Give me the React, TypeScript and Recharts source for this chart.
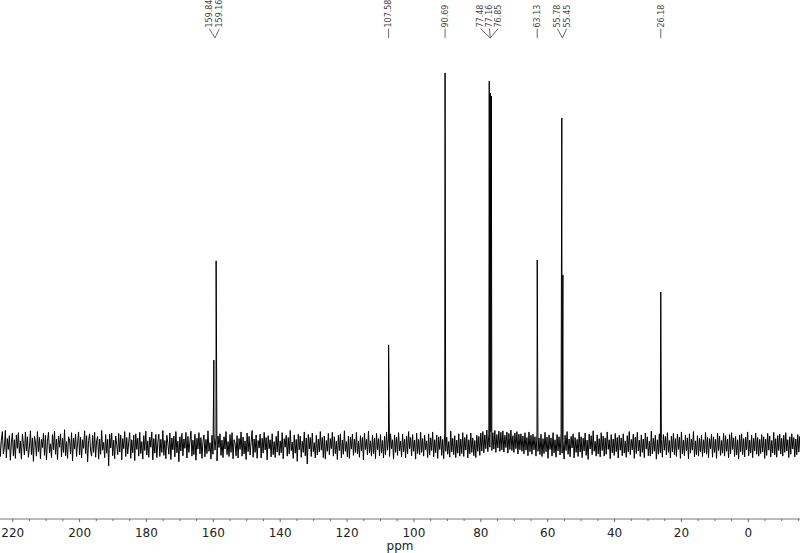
import { ComposedChart, Line, Scatter, XAxis, YAxis, ReferenceLine } from 'recharts';

// 13C spectrum, ppm axis runs right-to-left
const peakShifts = [159.84, 159.16, 107.58, 90.69, 77.48, 77.16, 76.85, 63.13, 55.78, 55.45, 26.18];
const peakHeights = [22.8, 49.5, 26.9, 100, 97.8, 94.6, 93.8, 49.7, 87.9, 45.7, 41.1];
const peakLabels = ['159.84', '159.16', '107.58', '90.69', '77.48', '77.16', '76.85', '63.13', '55.78', '55.45', '26.18'];
// where each label's text sits, and the peak its leader line points to
const labelShifts = [161.2, 158.2, 107.58, 90.69, 80.1, 77.4, 74.85, 63.13, 57.1, 54.3, 26.18];
const labelTargets = [159.5, 159.5, 107.58, 90.69, 77.16, 77.16, 77.16, 63.13, 55.6, 55.6, 26.18];

const majorTicks = [220, 200, 180, 160, 140, 120, 100, 80, 60, 40, 20, 0];
const allTicks = [
  220, 215, 210, 205, 200, 195, 190, 185, 180, 175, 170, 165, 160, 155, 150, 145, 140, 135, 130, 125,
  120, 115, 110, 105, 100, 95, 90, 85, 80, 75, 70, 65, 60, 55, 50, 45, 40, 35, 30, 25, 20, 15, 10, 5,
  0, -5, -10, -15,
];

// baseline noise, sampled every 0.3 ppm from 224 ppm
const noiseStart = 224.0;
const noiseStep = 0.3;
const noise = [
  2.8, -3.1, 1.2, 3.6, -2.4, -0.8, 3.9, -3.5, 1.7, -1.2, 2.5, -4.1, 0.6, 3.2, -2.9, 1.4, -3.6, 2.7, -0.9, 3.3,
  -2.2, 1.1, -3.8, 2.9, 0.4, -2.7, 3.5, -1.6, 2.2, -3.3, -0.5, 3.8, -2.6, 1.9, -4.4, 2.3, 0.8, -3.0, 3.6, -1.8,
  2.0, -3.7, 1.5, -0.7, 3.1, -2.8, 2.6, -4.0, 1.0, 3.4, -2.1, 0.3, -3.4, 2.8, -1.3, 3.7, -2.5, 1.6, -3.9, 2.4,
  -0.6, 3.0, -3.2, 1.8, -2.0, 4.1, -2.9, 0.9, -3.6, 2.2, 1.3, -2.4, 3.3, -4.3, 1.9, -1.1, 2.9, -3.1, 0.5, 3.5,
  -2.7, 2.1, -3.5, 1.4, -0.9, 3.8, -2.3, 2.5, -4.6, 1.2, 3.0, -1.7, -3.0, 2.6, -2.0, 3.4, -3.3, 1.1, 2.3, -3.8,
  1.6, -2.5, 3.9, -1.4, 0.7, -3.4, 2.8, -2.2, 1.5, -5.6, 2.9, -0.8, 3.2, -2.9, 1.3, -3.7, 2.4, 0.2, -2.6, 3.1,
  -1.9, 2.7, -4.0, 1.7, -1.0, 3.6, -3.1, 2.0, -2.4, 0.8, 3.3, -3.6, 1.4, -2.1, 2.6, -4.2, 3.0, -1.2, 1.8, -3.0,
  3.4, -2.3, 0.9, -3.8, 2.5, -1.5, 3.7, -2.7, 1.1, -3.3, 2.1, -0.6, 3.5, -4.0, 1.7, -2.2, 2.8, -3.4, 0.7, 2.9,
  -3.1, 1.5, -2.0, 3.9, -2.8, 1.2, -3.7, 2.6, 0.4, -2.5, 3.2, -3.9, 1.9, -1.3, 2.4, -3.2, 3.6, -2.1, 1.0, -4.5,
  2.2, -1.6, 3.1, -2.9, 1.6, -0.9, 3.4, -3.5, 2.3, -2.0, 0.8, 3.7, -3.0, 1.3, -2.6, 2.9, -4.1, 1.8, -1.1, 3.3,
  -2.4, 2.0, -3.6, 1.0, 2.7, -3.2, 1.5, -2.3, 3.8, -1.7, 0.6, -3.8, 2.6, -2.5, 3.1, -1.4, 1.9, -4.3, 2.4, -0.7,
  3.0, -2.8, 1.3, -3.4, 2.2, -1.1, 3.6, -2.6, 0.9, -3.1, 2.8, -2.0, 3.3, -3.7, 1.4, 0.5, -2.9, 2.5, -3.5, 1.7,
  -1.2, 3.5, -3.0, 2.1, -2.4, 1.1, -3.9, 3.2, -1.8, 2.3, -2.7, 0.7, 3.9, -3.3, 1.6, -2.0, 2.7, -3.6, 1.2, -0.8,
  2.9, -3.5, 1.8, -2.2, 3.4, -1.3, 2.0, -4.0, 2.5, -1.0, 1.4, -3.2, 3.0, -2.6, 0.9, -3.4, 2.3, -1.9, 3.7, -2.8,
  1.1, -2.1, 3.3, -3.7, 1.7, -0.6, 2.6, -3.0, 2.0, -2.4, 3.9, -1.5, 0.8, -3.6, 2.7, -2.2, 1.5, -4.4, 2.9, -1.3,
  2.4, -3.3, 1.0, -2.0, 3.5, -2.9, 1.9, -5.1, 2.8, -1.1, 2.0, -3.1, 3.2, -1.8, 0.6, -3.5, 2.6, -2.7, 1.6, -1.9,
  3.6, -1.4, 2.0, -3.4, 2.4, -3.8, 1.2, -1.7, 3.1, -2.6, 1.7, -1.0, 3.4, -3.0, 2.2, -2.3, 1.0, -3.9, 2.6, -1.5,
  3.0, -3.4, 1.3, -2.5, 3.8, -1.7, 0.9, -3.2, 2.4, -3.6, 2.1, -1.1, 2.9, -2.8, 1.6, -2.0, 3.4, -2.4, 1.0, -3.3,
  2.5, -1.6, 2.0, -4.0, 3.2, -1.2, 1.5, -2.7, 3.7, -2.1, 1.1, -3.0, 2.6, -2.3, 1.9, -3.7, 3.1, -1.3, 1.7, -2.9,
  2.8, -2.2, 1.2, -3.5, 2.3, -2.6, 3.5, -1.4, 1.8, -3.1, 3.0, -1.0, 1.4, -3.8, 2.7, -2.0, 2.1, -2.8, 3.3, -1.6,
  1.0, -3.2, 2.9, -1.8, 1.5, -3.5, 2.4, -2.4, 3.6, -1.1, 2.0, -2.9, 2.8, -1.7, 1.3, -3.8, 3.2, -2.3, 1.5, -2.6,
  3.4, -2.0, 1.7, -3.0, 2.6, -1.3, 1.1, -3.4, 3.0, -2.7, 1.9, -1.5, 3.5, -3.2, 1.4, -2.1, 2.7, -3.6, 2.2, -1.2,
  2.4, -2.8, 1.5, -3.7, 3.1, -1.7, 2.1, -2.5, 0.9, -3.3, 3.7, -1.9, 1.8, -2.6, 2.5, -3.4, 1.3, -2.2, 3.0, -3.0,
  1.6, -2.3, 3.3, -3.1, 2.0, -1.4, 2.8, -3.5, 1.4, -2.4, 3.2, -2.0, 1.9, -2.9, 1.2, -3.4, 2.6, -1.7, 2.3, -2.8,
  3.2, -1.6, 3.6, -2.1, 2.7, -1.0, 4.0, -1.8, 2.9, -0.6, 3.6, -1.5, 3.3, -1.1, 3.9, -2.0, 2.8, -0.8, 3.7, -1.7,
  3.4, -1.3, 3.8, -1.9, 2.6, -0.7, 3.5, -2.2, 3.1, -1.2, 4.0, -1.5, 2.5, -2.0, 3.2, -1.0, 3.6, -2.4, 2.9, -1.3,
  3.0, -1.7, 2.4, -2.4, 3.3, -1.4, 2.0, -2.9, 3.5, -1.8, 2.6, -2.5, 2.9, -1.3, 2.2, -3.0, 3.2, -1.7, 1.9, -2.6,
  2.9, -3.1, 1.7, -2.3, 3.4, -1.8, 2.1, -3.6, 2.7, -1.2, 1.9, -3.0, 3.3, -2.1, 1.4, -3.3, 2.8, -1.6, 2.2, -2.7,
  3.1, -2.2, 1.2, -3.8, 2.6, -1.5, 3.6, -2.5, 1.6, -3.2, 2.3, -0.8, 3.0, -3.5, 2.0, -2.0, 1.5, -3.1, 3.4, -1.9,
  2.2, -3.4, 1.8, -1.6, 3.2, -2.8, 1.3, -3.9, 2.9, -1.1, 2.5, -2.6, 3.8, -1.7, 1.0, -3.0, 2.7, -2.4, 1.7, -3.2,
  3.3, -1.5, 2.4, -3.0, 1.9, -2.5, 3.5, -1.2, 1.4, -3.7, 2.8, -2.1, 1.6, -2.8, 3.1, -1.8, 2.0, -3.5, 2.6, -1.4,
  1.9, -2.9, 3.0, -2.2, 1.1, -3.3, 2.5, -1.9, 3.6, -2.6, 1.5, -1.3, 2.9, -3.6, 2.1, -2.3, 3.4, -1.6, 1.3, -3.1,
  2.7, -2.0, 1.6, -3.4, 3.2, -1.1, 2.2, -2.9, 1.0, -3.0, 3.7, -2.4, 1.8, -1.7, 2.6, -3.8, 1.4, -2.5, 3.0, -2.1,
  1.5, -3.3, 2.8, -1.4, 2.3, -2.7, 3.3, -2.0, 1.2, -3.5, 2.4, -1.8, 3.1, -2.6, 1.7, -3.1, 2.9, -1.2, 2.1, -3.6,
  3.5, -2.4, 1.3, -2.9, 2.7, -1.6, 1.9, -3.7, 3.0, -2.2, 1.6, -1.4, 3.6, -3.2, 1.1, -2.6, 2.5, -3.0, 1.8, -1.9,
  2.6, -3.1, 1.4, -2.1, 3.4, -2.5, 2.0, -3.4, 1.7, -1.0, 2.9, -3.3, 2.2, -2.0, 1.5, -3.6, 3.2, -1.5, 2.4, -2.8,
  1.2, -2.2, 3.1, -3.0, 2.5, -1.7, 1.6, -3.5, 2.8, -2.4, 3.3, -1.2, 1.9, -3.1, 2.3, -2.7, 1.4, -3.8, 2.7, -1.8,
  3.0, -2.6, 1.7, -3.2, 2.1, -1.3, 3.5, -2.9, 1.3, -2.2, 2.6, -3.4, 1.8, -1.6, 3.2, -2.5, 2.0, -3.0, 1.5, -2.3,
  2.8, -1.9, 2.2, -3.6, 1.6, -2.8, 3.1, -1.4, 2.4, -3.2, 1.2, -2.1, 3.4, -2.7, 1.7, -3.3, 2.5, -1.5, 2.9, -2.4,
  1.8, -3.0, 2.6, -2.0, 3.3, -1.6, 1.4, -3.4, 2.2, -2.5, 3.0, -1.1, 2.0, -3.2, 1.6, -2.6, 2.8, -1.9, 2.3, -3.1,
];

const spectrum = [
  ...noise.map((v, i) => ({ ppm: noiseStart - i * noiseStep, v })),
  ...peakShifts.map((p, i) => ({ ppm: p, v: peakHeights[i] })),
].sort((a, b) => b.ppm - a.ppm);

const LABEL_Y = 112.2;
const LEAD_TOP = 111.9;
const LEAD_BOTTOM = 109.4;

const labelData = labelShifts.map((p, i) => ({ ppm: p, lab: LABEL_Y, text: peakLabels[i] }));

const FONT = '"DejaVu Sans", "Liberation Sans", sans-serif';

const LabelShape = (props: any) => {
  const { cx, cy, payload } = props;
  return (
    <text
      x={cx}
      y={cy}
      transform={`rotate(-90 ${cx} ${cy})`}
      dy="0.35em"
      textAnchor="start"
      fontSize={8}
      fontFamily={FONT}
      fill="#444"
    >
      {payload.text}
    </text>
  );
};

const PpmTick = ({ x, y, payload }: any) => {
  const major = majorTicks.includes(payload.value);
  return (
    <g>
      <line x1={x} x2={x} y1={y} y2={y + (major ? 3 : 2)} stroke="#666" />
      {major && (
        <text x={x} y={y + 17.5} textAnchor="middle" fontSize={12} fontFamily={FONT} fill="#222">
          {payload.value}
        </text>
      )}
    </g>
  );
};

export default function App() {
  return (
    <div style={{ position: 'absolute', left: 0, top: 0, background: '#fff' }}>
      <ComposedChart width={800} height={553} margin={{ top: 0, right: 0, left: 0, bottom: 0 }}>
        <XAxis
          dataKey="ppm"
          type="number"
          reversed
          domain={[-15.46, 223.8]}
          allowDataOverflow
          ticks={allTicks}
          interval={0}
          tick={<PpmTick />}
          tickLine={false}
          tickSize={0}
          tickMargin={0}
          axisLine={{ stroke: '#777' }}
          height={34}
          label={{ value: 'ppm', position: 'insideBottom', offset: 3, fontSize: 12, fill: '#222', fontFamily: FONT }}
        />
        <YAxis hide type="number" domain={[-19.9, 119.6]} allowDataOverflow />

        <Line
          data={spectrum}
          dataKey="v"
          type="linear"
          dot={false}
          activeDot={false}
          stroke="#000"
          strokeWidth={1}
          isAnimationActive={false}
        />

        {labelShifts.map((p, i) => (
          <ReferenceLine
            key={i}
            segment={[{ x: p, y: LEAD_TOP }, { x: labelTargets[i], y: LEAD_BOTTOM }]}
            stroke="#444"
            strokeWidth={0.8}
          />
        ))}

        <Scatter data={labelData} dataKey="lab" shape={LabelShape} isAnimationActive={false} />
      </ComposedChart>
    </div>
  );
}
